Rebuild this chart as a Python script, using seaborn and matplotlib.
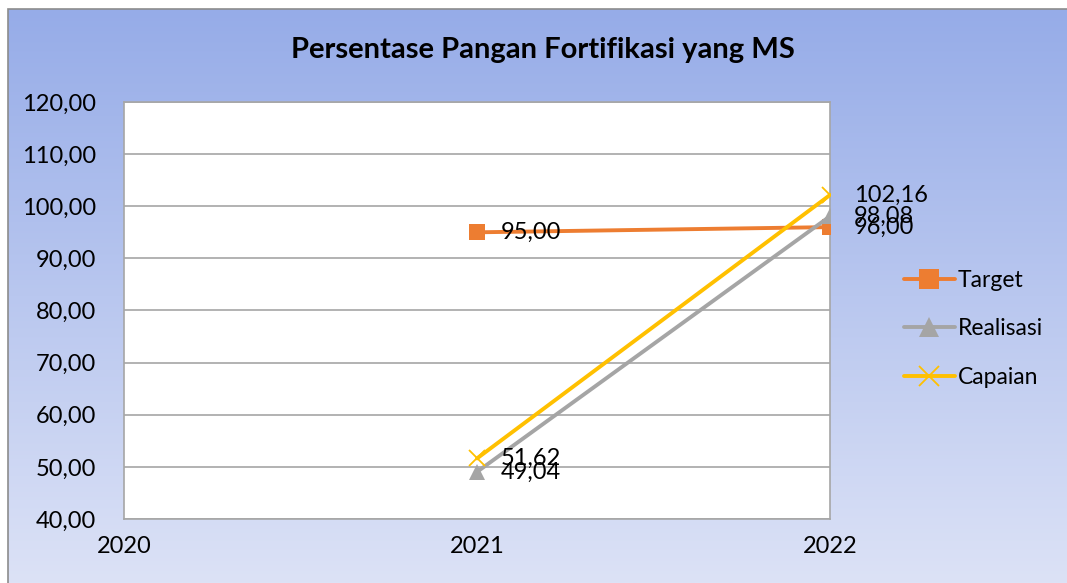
import numpy as np
import matplotlib
matplotlib.use("Agg")
import matplotlib.pyplot as plt
import pandas as pd
import seaborn as sns
from matplotlib.patches import Rectangle

# data
years = [2021, 2022]
target = [95.00, 96.00]
realisasi = [49.04, 98.08]
capaian = [51.62, 102.16]
series_names = ["Target", "Realisasi", "Capaian"]
year_ticks = [2020, 2021, 2022]
y_ticks = [40, 50, 60, 70, 80, 90, 100, 110, 120]

data = pd.DataFrame({
    "year": years * 3,
    "value": target + realisasi + capaian,
    "series": ["Target"] * 2 + ["Realisasi"] * 2 + ["Capaian"] * 2,
})

sns.set_style("white")
plt.rcParams["font.family"] = ["Lato", "DejaVu Sans"]
plt.rcParams["text.color"] = "black"

fig = plt.figure(figsize=(10.67, 5.83), dpi=100)

# gradient background with a thin grey frame
bg = fig.add_axes([0, 0, 1, 1], zorder=-10)
grad = np.linspace(0, 1, 256)[:, None]
top_c = np.array([150, 172, 232]) / 255
bot_c = np.array([220, 226, 246]) / 255
img = top_c[None, None, :] * (1 - grad[:, :, None]) + bot_c[None, None, :] * grad[:, :, None]
bg.imshow(img, aspect="auto", extent=[8 / 1067, 1.01, 0, 1 - 9 / 583])
bg.add_patch(Rectangle((8 / 1067, -0.01), 1.0, 1 - 9 / 583 + 0.01, fill=False,
                       edgecolor="#8c8c8c", linewidth=1.2))
bg.set_xlim(0, 1)
bg.set_ylim(0, 1)
bg.set_axis_off()

ax = fig.add_axes([124 / 1067, 1 - 519 / 583, (830 - 124) / 1067, (519 - 102) / 583])
ax.set_facecolor("white")

styles = {
    "Target": dict(color="#ED7D31", marker="s", markersize=11),
    "Realisasi": dict(color="#A5A5A5", marker="^", markersize=12),
    "Capaian": dict(color="#FFC000", marker="x", markersize=12, markeredgewidth=1.3),
}

for name in series_names:
    st = styles[name]
    sns.lineplot(data=data[data.series == name], x="year", y="value", ax=ax,
                 color=st["color"], marker=st["marker"], markersize=st["markersize"],
                 markeredgewidth=st.get("markeredgewidth", 0), markeredgecolor=st["color"],
                 linewidth=2.8, label=name, zorder=3)

# data labels
for name, vals in zip(series_names, [target, realisasi, capaian]):
    for x, v in zip(years, vals):
        ax.annotate(f"{v:.2f}".replace(".", ","), (x, v), xytext=(17, 0),
                    textcoords="offset points", va="center", ha="left",
                    fontsize=17, color="black", zorder=5)

ax.set_xlim(2020, 2022)
ax.set_ylim(40, 120)
ax.set_xticks(year_ticks)
ax.set_xticklabels([str(y) for y in year_ticks])
ax.set_yticks(y_ticks)
ax.set_yticklabels([f"{y:.2f}".replace(".", ",") for y in y_ticks])
ax.tick_params(axis="both", length=0, labelsize=17, colors="black")
ax.tick_params(axis="y", pad=20)
ax.tick_params(axis="x", pad=12)
ax.yaxis.grid(True, color="#a6a6a6", linewidth=1.2)
ax.set_axisbelow(True)
for sp in ax.spines.values():
    sp.set_color("#a6a6a6")
    sp.set_linewidth(1.2)
ax.set_xlabel("")
ax.set_ylabel("")

fig.text(543 / 1067, 1 - 50 / 583, "Persentase Pangan Fortifikasi yang MS",
         ha="center", va="center", fontsize=21, fontweight="bold", color="black")

leg = ax.legend(loc="center left", bbox_to_anchor=(895 / 1067, 1 - 329 / 583),
                bbox_transform=fig.transFigure, frameon=False, fontsize=16.5,
                handlelength=2.2, handletextpad=0.15, labelspacing=1.2,
                borderaxespad=0, markerscale=1.25, labelcolor="black")

fig.savefig("out.png", dpi=100)
